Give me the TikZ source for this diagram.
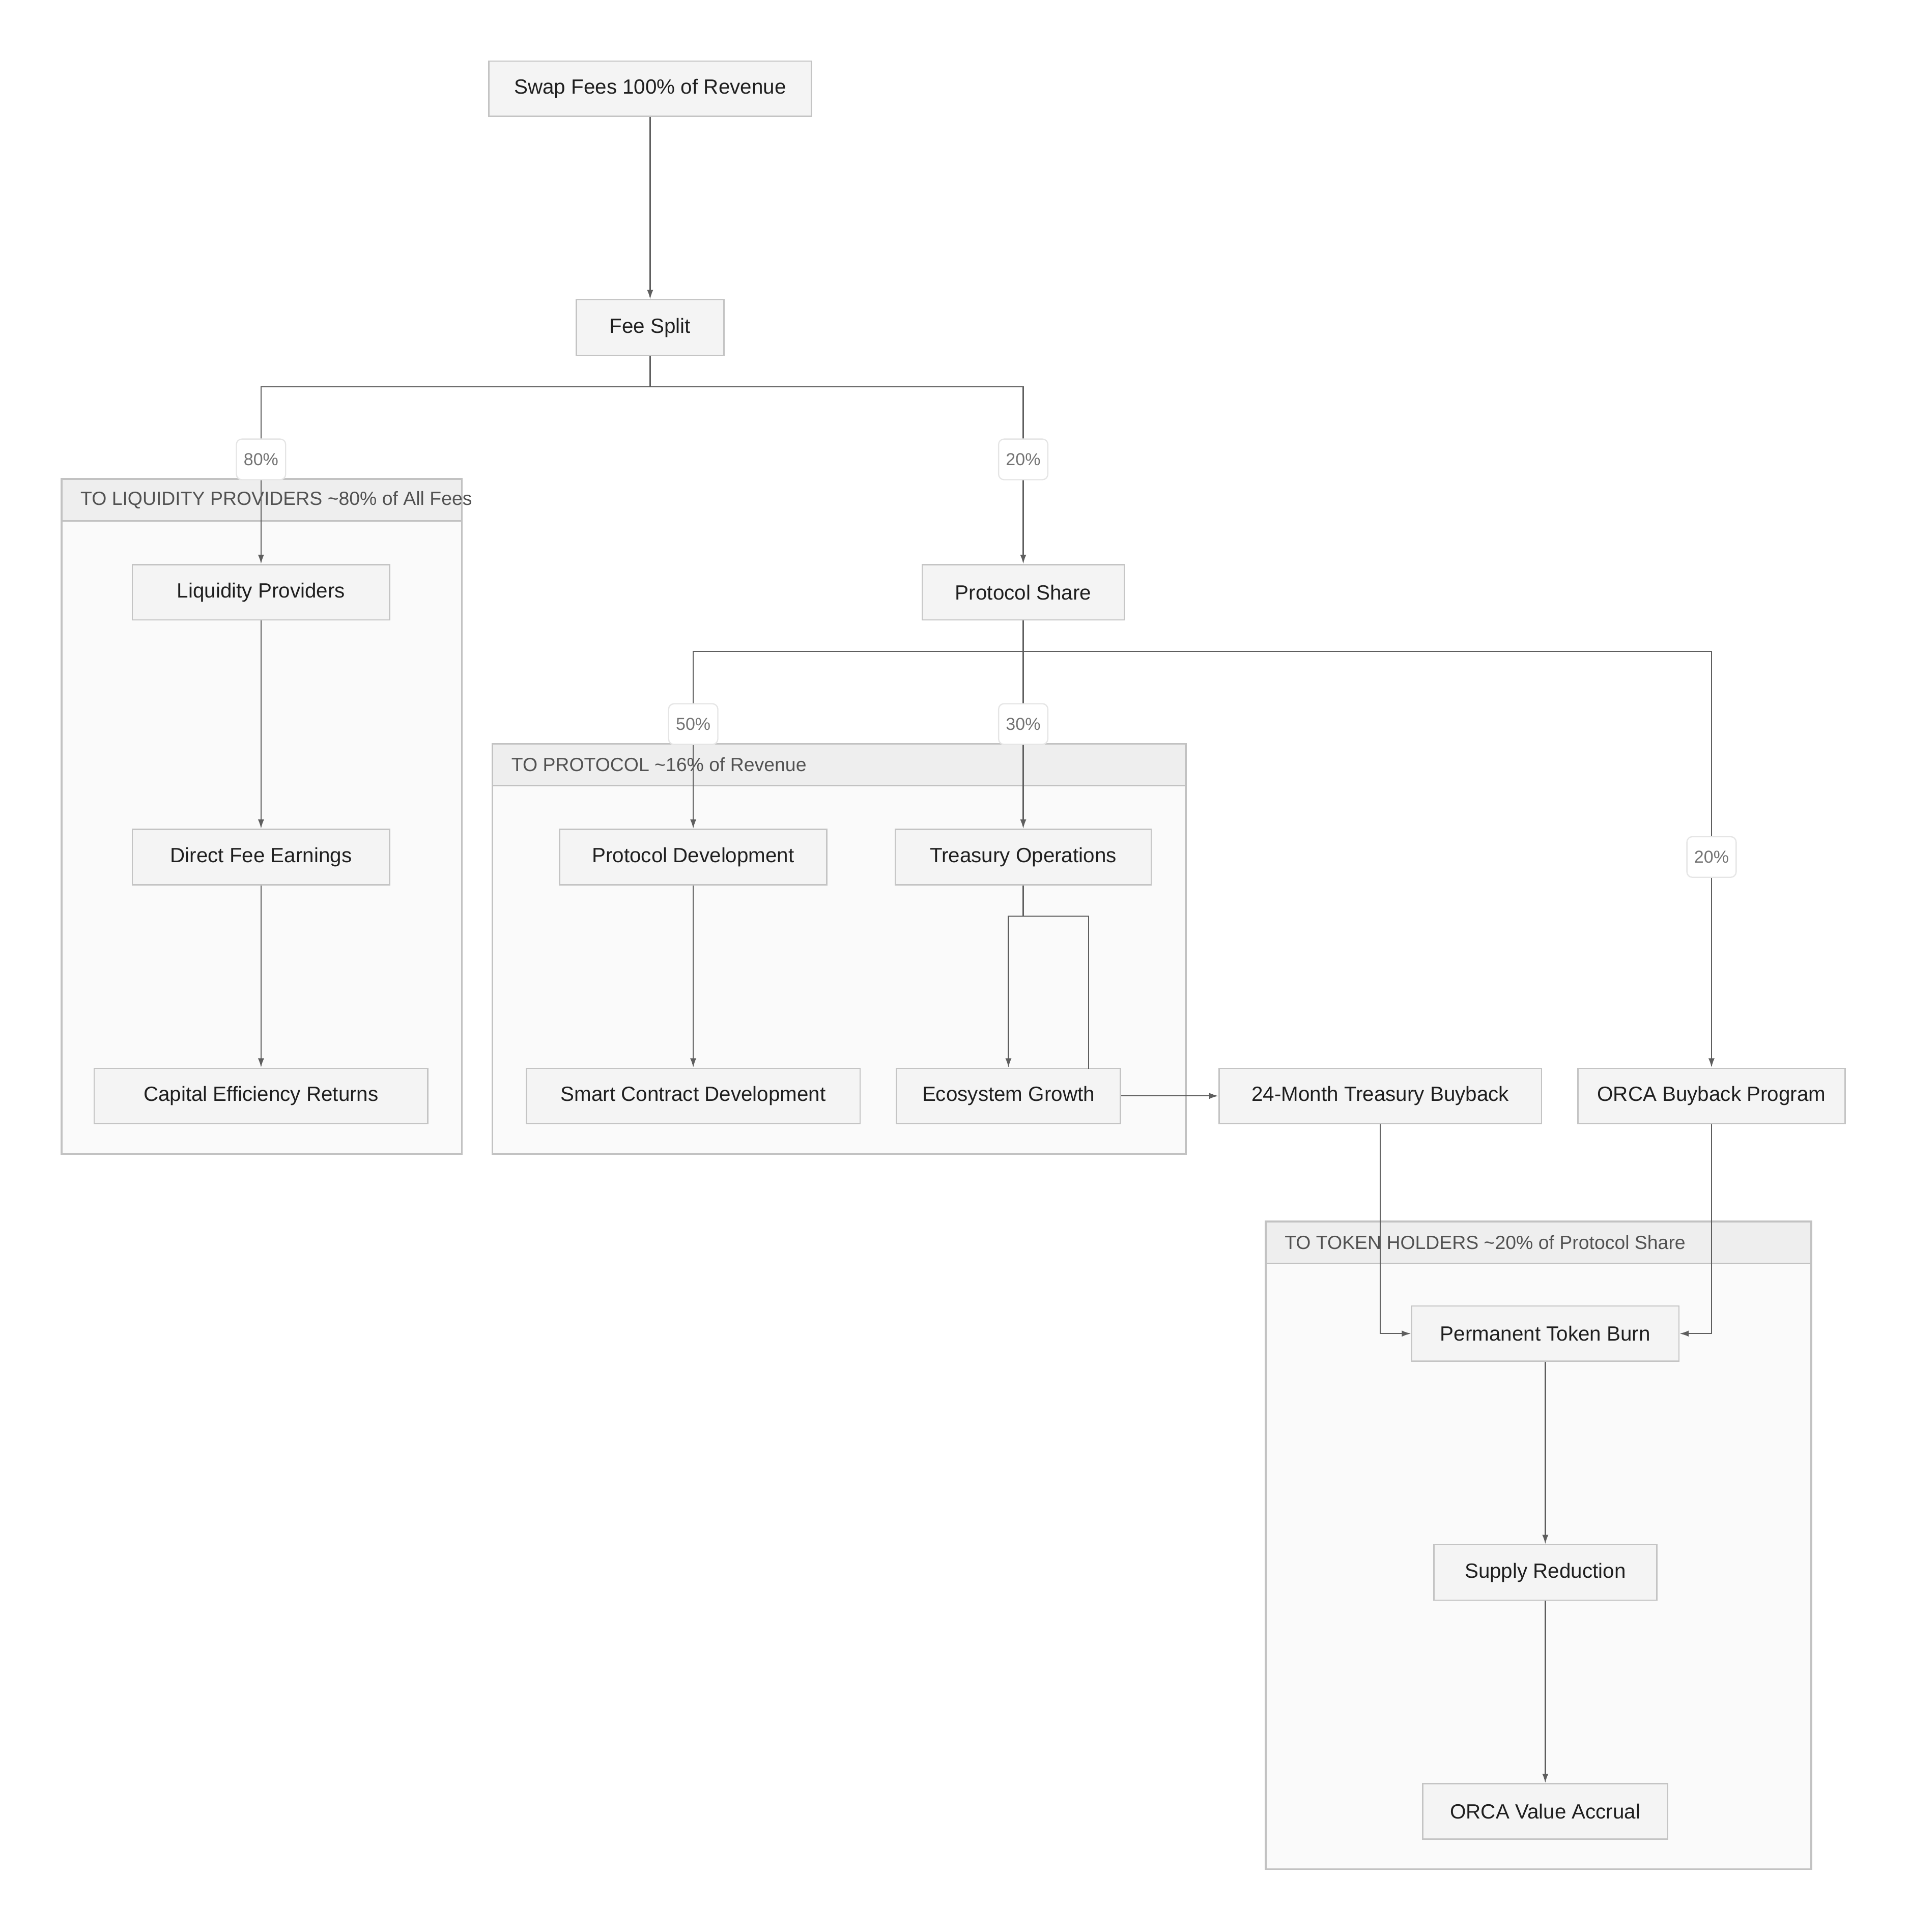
\documentclass[tikz,border=0pt]{standalone}
\usepackage{fontspec}
\setmainfont{Liberation Sans}
\usetikzlibrary{arrows.meta,positioning}
\definecolor{boxfill}{HTML}{F4F4F4}
\definecolor{boxline}{HTML}{C4C4C4}
\definecolor{grpfill}{HTML}{FAFAFA}
\definecolor{grphead}{HTML}{EEEEEE}
\definecolor{grpline}{HTML}{C2C2C2}
\definecolor{edgeline}{HTML}{5E5E5E}

\begin{document}
\begin{tikzpicture}[
    x=0.02cm, y=-0.02cm,
    box/.style={rectangle, draw=boxline, fill=boxfill, line width=0.6pt, minimum height=0.9cm, inner sep=0pt, text=black!88, font=\fontsize{9.5}{11}\selectfont},
    arrow/.style={-{Latex[length=1.5mm, width=1mm]}, draw=edgeline, line width=0.55pt},
    link/.style={draw=edgeline, line width=0.55pt},
    cluster/.style={draw=grpline, fill=grpfill, line width=0.8pt},
    clusterhead/.style={draw=grpline, fill=grphead, line width=0.8pt},
    grouptitle/.style={anchor=west, inner sep=0pt, text=black!68, font=\fontsize{8.8}{10}\selectfont},
    pct/.style={rectangle, rounded corners=2.5pt, draw=black!10, fill=white, minimum width=0.8cm, minimum height=0.66cm, inner sep=0pt, text=black!55, font=\fontsize{8}{9}\selectfont}
]
    \useasboundingbox (0,0) rectangle (1550,1569);

    \draw[cluster] (50,389) rectangle (375,937);
    \draw[clusterhead] (50,389) rectangle (375,423);
    \node[grouptitle] (lptitle) at (65,406) {TO LIQUIDITY PROVIDERS \textasciitilde80\% of All Fees};

    \draw[cluster] (400,604) rectangle (963,937);
    \draw[clusterhead] (400,604) rectangle (963,638);
    \node[grouptitle] (prtitle) at (415,621) {TO PROTOCOL \textasciitilde16\% of Revenue};

    \draw[cluster] (1028,992) rectangle (1471,1518);
    \draw[clusterhead] (1028,992) rectangle (1471,1026);
    \node[grouptitle] (thtitle) at (1043,1009) {TO TOKEN HOLDERS \textasciitilde20\% of Protocol Share};

    \node[box, minimum width=5.24cm] (swap) at (528,72) {Swap Fees 100\% of Revenue};
    \node[box, minimum width=2.4cm] (split) at (528,266) {Fee Split};
    \node[box, minimum width=4.18cm] (lp) at (212,481) {Liquidity Providers};
    \node[box, minimum width=4.18cm] (direct) at (212,696) {Direct Fee Earnings};
    \node[box, minimum width=5.42cm] (capital) at (212,890) {Capital Efficiency Returns};
    \node[box, minimum width=3.28cm] (share) at (831,481) {Protocol Share};
    \node[box, minimum width=4.34cm] (dev) at (563,696) {Protocol Development};
    \node[box, minimum width=4.16cm] (treasury) at (831,696) {Treasury Operations};
    \node[box, minimum width=5.42cm] (smart) at (563,890) {Smart Contract Development};
    \node[box, minimum width=3.64cm] (eco) at (819,890) {Ecosystem Growth};
    \node[box, minimum width=5.24cm] (buyback) at (1121,890) {24-Month Treasury Buyback};
    \node[box, minimum width=4.34cm] (orcabuy) at (1390,890) {ORCA Buyback Program};
    \node[box, minimum width=4.34cm] (burn) at (1255,1083) {Permanent Token Burn};
    \node[box, minimum width=3.62cm] (supply) at (1255,1277) {Supply Reduction};
    \node[box, minimum width=3.98cm] (accrual) at (1255,1471) {ORCA Value Accrual};
    \coordinate (ecoport) at (884,868);

    \draw[arrow] (swap) -- (split);
    \draw[arrow] (split.south) -- ++(0,25) -| node[pct, pos=0.705] {80\%} (lp);
    \draw[arrow] (split.south) -- ++(0,25) -| node[pct, pos=0.705] {20\%} (share);
    \draw[arrow] (lp) -- (direct);
    \draw[arrow] (direct) -- (capital);
    \draw[arrow] (share.south) -- ++(0,25) -| node[pct, pos=0.705] {50\%} (dev);
    \draw[arrow] (share) -- node[pct, pos=0.497] {30\%} (treasury);
    \draw[arrow] (share.south) -- ++(0,25) -| node[pct, pos=0.747] {20\%} (orcabuy);
    \draw[arrow] (dev) -- (smart);
    \draw[arrow] (treasury.south) -- ++(0,25) -| (eco);
    \draw[link] (treasury.south) -- ++(0,25) -| (ecoport);
    \draw[arrow] (eco) -- (buyback);
    \draw[arrow] (buyback.south) |- (burn.west);
    \draw[arrow] (orcabuy.south) |- (burn.east);
    \draw[arrow] (burn) -- (supply);
    \draw[arrow] (supply) -- (accrual);
\end{tikzpicture}
\end{document}
